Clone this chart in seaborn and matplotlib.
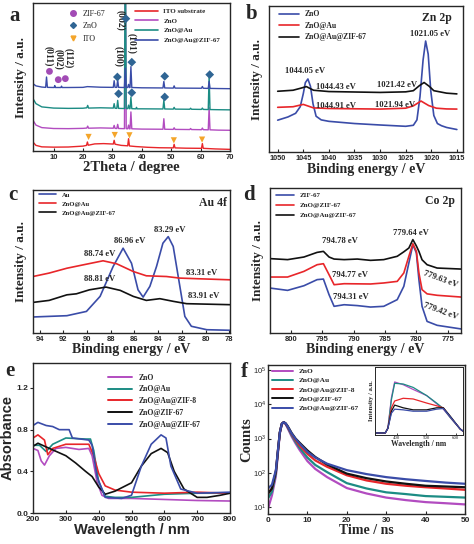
import numpy as np
import matplotlib
matplotlib.use("Agg")
import matplotlib.pyplot as plt
import seaborn as sns
from matplotlib.lines import Line2D

# ---------------- data ----------------
# (a) XRD, stacked curves (arbitrary units 0-100)
xrd_x_ito = [3, 4, 6, 10, 15, 20, 21.2, 21.5, 21.8, 24, 27, 30.3, 30.6, 30.9, 33, 35.2, 35.5, 35.8, 38, 42, 46,
             50.7, 51.0, 51.3, 55, 60.3, 60.6, 60.9, 65, 70]
xrd_y_ito = [6, 3.8, 2.8, 2.6, 2.7, 3.3, 3.8, 6.1, 3.9, 4.8, 5.0, 4.7, 7.2, 4.6, 3.8, 3.5, 8.3, 3.4, 3.0, 2.5, 2.2,
             2.1, 4.5, 2.1, 1.9, 1.8, 5.0, 1.8, 1.4, 1.1]
xrd_x_zno = [3, 4, 6, 10, 15, 20, 21.3, 21.6, 21.9, 26, 30.3, 30.6, 30.9, 31.5, 31.8, 32.1, 34.1, 34.4, 34.7,
             35.2, 35.5, 35.8, 36.0, 36.3, 36.6, 40, 47.2, 47.5, 47.8, 50.7, 51.0, 51.3, 56.3, 56.6, 56.9,
             60.3, 60.6, 60.9, 62.6, 62.9, 63.2, 66, 70]
xrd_y_zno = [20.7, 17.5, 15.8, 15.2, 15.1, 15.3, 15.5, 16.8, 15.4, 15.6, 15.4, 17.3, 15.3, 15.2, 18.0, 15.2, 15.1, 150, 15.1,
             15.0, 17.5, 15.0, 15.0, 26.4, 15.0, 14.8, 14.7, 21.8, 14.7, 14.6, 15.7, 14.6, 14.5, 15.2, 14.5,
             14.4, 15.5, 14.4, 14.3, 29.3, 14.3, 14.1, 14.0]
xrd_x_au = [3, 4, 6, 10, 15, 20, 21.3, 21.6, 21.9, 26, 30.3, 30.6, 30.9, 31.5, 31.8, 32.1, 34.1, 34.4, 34.7,
            35.2, 35.5, 35.8, 36.0, 36.3, 36.6, 38.0, 38.2, 38.4, 40, 47.2, 47.5, 47.8, 50.7, 51.0, 51.3,
            56.3, 56.6, 56.9, 60.3, 60.6, 60.9, 62.6, 62.9, 63.2, 66, 70]
xrd_y_au = [35.4, 32, 29.8, 29.0, 28.8, 28.9, 29.2, 30.8, 29.0, 29.2, 29.0, 32.0, 28.9, 28.8, 34.2, 28.8, 28.7, 150, 28.7,
            28.6, 31.0, 28.6, 28.6, 36.5, 28.6, 28.5, 29.5, 28.5, 28.5, 28.4, 34.2, 28.4, 28.3, 29.5, 28.3,
            28.2, 28.9, 28.2, 28.1, 29.0, 28.1, 28.0, 51.0, 28.0, 27.9, 27.8]
xrd_x_zif = [3, 4, 6, 7.3, 7.6, 7.9, 10.2, 10.4, 10.6, 12.5, 12.7, 12.9, 15, 20, 21.5, 26, 30.3, 30.6, 30.9,
             31.5, 31.8, 32.1, 34.1, 34.4, 34.7, 35.2, 35.5, 35.8, 36.0, 36.3, 36.6, 40, 47.2, 47.5, 47.8,
             50.7, 51.0, 51.3, 60.3, 60.6, 60.9, 62.6, 62.9, 63.2, 66, 70]
xrd_y_zif = [45.5, 44.0, 43.2, 43.0, 50.0, 43.0, 42.9, 44.2, 42.9, 42.9, 43.8, 42.9, 42.9, 43.0, 43.5, 43.1, 43.0, 47.5, 43.0,
             43.0, 48.2, 43.0, 42.9, 56.0, 42.9, 42.9, 45.0, 42.9, 42.9, 57.0, 42.9, 42.7, 42.6, 47.0, 42.6,
             42.5, 44.0, 42.5, 42.4, 43.6, 42.4, 42.3, 47.0, 42.3, 42.2, 42.1]
xrd_labels = ["ITO substrate", "ZnO", "ZnO@Au", "ZnO@Au@ZIF-67"]
zif_mark_x = [8.6, 11.6, 14.0]
zif_mark_y = [53.8, 48.2, 48.9]
zno_mark_x = [31.7, 34.6, 36.6, 47.8, 63.1, 32.1, 36.6, 47.8]
zno_mark_y = [50.0, 89.4, 60.0, 50.5, 51.6, 38.7, 39.4, 36.5]
ito_mark_x = [21.9, 30.8, 35.8, 50.9, 60.5]
ito_mark_y = [9.5, 10.8, 10.6, 7.2, 7.7]
hkl_text = ["(011)", "(002)", "(112)", "(100)", "(002)", "(101)"]
hkl_x = [8.3, 11.6, 14.9, 32.0, 32.6, 36.4]
hkl_y = [64.0, 62.0, 63.0, 64.0, 88.5, 73.0]

# (b) Zn 2p
zn_x_zno = [1050, 1048, 1046.5, 1045.6, 1045.0, 1044.6, 1044.1, 1043.6, 1043.1, 1042.5, 1041.5, 1040, 1035, 1030, 1025,
            1023.5, 1022.8, 1022.2, 1021.6, 1021.1, 1020.6, 1020.1, 1019.5, 1018.8, 1018, 1017, 1015]
zn_y_zno = [21.8, 24.0, 26.5, 31.0, 40.0, 47.5, 50.0, 45.0, 33.0, 24.5, 22.0, 21.0, 19.5, 18.5, 17.6,
            18.3, 22.0, 38.0, 63.0, 76.0, 67.0, 42.0, 25.0, 19.5, 18.0, 16.8, 15.4]
zn_x_au = [1050, 1047, 1045.0, 1043, 1040, 1030, 1025, 1023.5, 1022, 1020.5, 1019, 1017, 1015]
zn_y_au = [30.6, 31.0, 32.6, 30.2, 29.8, 29.4, 30.0, 31.6, 34.9, 31.8, 30.0, 29.5, 29.4]
zn_x_zif = [1050, 1047, 1045.5, 1044.4, 1043, 1040, 1030, 1025, 1023.5, 1022.3, 1021.4, 1020.4, 1019.5, 1017, 1015]
zn_y_zif = [41.6, 42.3, 43.7, 44.8, 42.3, 41.4, 40.8, 41.2, 42.0, 45.5, 47.6, 45.0, 42.0, 40.3, 39.8]
zn_labels = ["ZnO", "ZnO@Au", "ZnO@Au@ZIF-67"]
zn_ann = ["1021.05 eV", "1044.05 eV", "1044.43 eV", "1021.42 eV", "1044.91 eV", "1021.94 eV"]
zn_ann_x = [1020.3, 1044.6, 1038.7, 1026.7, 1038.6, 1027.1]
zn_ann_y = [80.5, 55.2, 44.4, 46.0, 31.5, 32.2]

# (c) Au 4f
au_x_au = [94.56, 91.7, 90.05, 88.9, 87.8, 86.96, 86.25, 85.7, 85.27, 84.7, 84.14, 83.6, 83.15, 82.73, 82.17,
           81.75, 81.2, 79.9, 77.94]
au_y_au = [11.2, 12.1, 15.1, 25.6, 46.5, 59.3, 48.8, 30.2, 25.1, 32.6, 46.5, 62.8, 67.4, 60.5, 32.6,
           11.6, 4.7, 2.3, 1.9]
au_x_znau = [94.56, 93.2, 91.7, 90.3, 88.65, 87.5, 86.1, 85.0, 83.3, 82.2, 80.5, 77.94]
au_y_znau = [39.5, 41.9, 45.3, 47.7, 50.5, 48.4, 43.0, 40.0, 39.5, 38.4, 37.9, 37.2]
au_x_zif = [94.56, 93.2, 91.7, 90.9, 89.8, 88.4, 87.2, 86.1, 85.0, 83.86, 82.7, 81.6, 77.94]
au_y_zif = [21.4, 22.8, 26.7, 27.4, 30.2, 32.1, 29.8, 25.6, 22.8, 24.0, 22.1, 20.5, 19.8]
au_labels = ["Au", "ZnO@Au", "ZnO@Au@ZIF-67"]
au_ann = ["83.29 eV", "86.96 eV", "88.74 eV", "83.31 eV", "88.81 eV", "83.91 eV"]
au_ann_x = [83.0, 86.4, 88.9, 80.3, 88.9, 80.2]
au_ann_y = [72.1, 64.0, 55.3, 42.3, 37.9, 25.6]

# (d) Co 2p
co_x = [803.3, 800.5, 797.9, 795.8, 794.8, 793.9, 793.1, 791.5, 789.4, 787.3, 785.2, 783.05, 782.0, 781.2,
        780.56, 780.0, 779.6, 779.1, 778.3, 776.7, 772.9]
co_y_zif = [31.0, 29.4, 32.6, 36.8, 37.2, 26.4, 18.4, 19.5, 18.9, 17.9, 18.4, 23.0, 32.2, 48.3,
            60.9, 55.2, 36.8, 18.4, 8.0, 5.3, 2.8]
co_y_znzif = [38.6, 38.6, 42.5, 47.1, 47.8, 40.2, 33.3, 34.0, 33.9, 33.8, 34.5, 35.6, 41.4, 52.9,
              61.6, 56.3, 41.4, 29.9, 27.0, 26.0, 24.8]
co_y_auzif = [51.3, 50.6, 52.4, 55.6, 56.3, 52.4, 51.0, 50.6, 51.0, 50.1, 50.6, 52.9, 56.0, 58.6,
              64.4, 60.0, 56.3, 50.5, 47.1, 44.8, 44.1]
co_labels = ["ZIF-67", "ZnO@ZIF-67", "ZnO@Au@ZIF-67"]
co_ann = ["779.64 eV", "794.78 eV", "794.77 eV", "794.31 eV", "779.63 eV", "779.42 eV"]
co_ann_x = [780.9, 792.1, 790.5, 790.5, 776.2, 776.2]
co_ann_y = [69.0, 63.2, 40.2, 24.8, 36.8, 14.9]
co_ann_rot = [0, 0, 0, 0, -20, -20]

# (e) UV-vis absorbance
uv_x_zno = [200, 215, 225, 235, 250, 270, 300, 340, 370, 380, 395, 410, 430, 500, 600, 700, 800]
uv_y_zno = [0.62, 0.60, 0.50, 0.46, 0.55, 0.62, 0.63, 0.61, 0.62, 0.55, 0.30, 0.17, 0.14, 0.14, 0.13, 0.12, 0.115]
uv_x_au = [200, 220, 240, 260, 300, 360, 375, 385, 400, 420, 450, 500, 600, 700, 800]
uv_y_au = [0.65, 0.65, 0.59, 0.66, 0.72, 0.71, 0.71, 0.60, 0.30, 0.16, 0.15, 0.15, 0.18, 0.19, 0.19]
uv_x_zif8 = [200, 215, 235, 245, 260, 300, 370, 385, 400, 420, 450, 500, 600, 700, 800]
uv_y_zif8 = [0.72, 0.75, 0.70, 0.56, 0.62, 0.66, 0.66, 0.55, 0.38, 0.26, 0.22, 0.20, 0.19, 0.20, 0.19]
uv_x_zif67 = [200, 215, 250, 300, 330, 360, 380, 400, 420, 450, 500, 530, 560, 590, 610, 630, 660, 700, 730, 770, 800]
uv_y_zif67 = [0.64, 0.67, 0.62, 0.55, 0.48, 0.40, 0.35, 0.25, 0.18, 0.21, 0.29, 0.45, 0.57, 0.62, 0.58, 0.40, 0.23,
              0.15, 0.15, 0.17, 0.19]
uv_x_auzif = [200, 215, 240, 260, 280, 310, 320, 370, 380, 395, 420, 470, 500, 530, 560, 590, 605, 620, 650, 700, 800]
uv_y_auzif = [0.84, 0.87, 0.84, 0.83, 0.80, 0.80, 0.72, 0.70, 0.65, 0.35, 0.15, 0.14, 0.17, 0.45, 0.66, 0.75, 0.72,
              0.45, 0.23, 0.19, 0.20]
uv_labels = ["ZnO", "ZnO@Au", "ZnO@Au@ZIF-8", "ZnO@ZIF-67", "ZnO@Au@ZIF-67"]

# (f) TRPL decay
t_ns = [0, 1, 2, 2.5, 3, 3.5, 4, 4.5, 5, 6, 7, 8, 10, 12, 15, 20, 25, 30, 35, 40, 45, 50]
pl_zno = [9, 22, 80, 350, 1400, 2600, 3000, 2600, 2000, 1150, 720, 470, 220, 130, 75, 36, 25, 19, 16, 14, 13, 12]
pl_au = [18, 28, 95, 400, 1500, 2700, 3000, 2700, 2100, 1250, 800, 540, 280, 170, 105, 50, 35, 27, 24, 21, 20, 19]
pl_zif8 = [25, 35, 110, 420, 1500, 2700, 3000, 2700, 2200, 1350, 900, 630, 360, 230, 150, 85, 60, 48, 42, 38, 35, 32]
pl_zif67 = [25, 35, 110, 420, 1500, 2700, 3000, 2750, 2300, 1450, 1000, 760, 450, 290, 175, 95, 70, 56, 48, 42, 40, 38]
pl_auzif = [35, 45, 120, 430, 1500, 2700, 3000, 2750, 2250, 1400, 980, 720, 410, 280, 185, 120, 92, 75, 65, 58, 52, 48]
# inset PL spectra
ins_x = [325, 360, 369, 381, 392, 421, 455, 501, 535, 558, 581, 615, 624]
ins_zno = [3, 3, 10, 55, 78, 74, 67, 58, 46, 38, 26, 9, 6]
ins_au = [3, 3, 10, 52, 76, 75, 70, 58, 47, 39, 26, 9, 6]
ins_zif8 = [3, 3, 10, 40, 50, 54, 53, 47, 43, 40, 27, 9, 6]
ins_zif67 = [3, 3, 10, 35, 44, 40, 37, 37, 40, 40, 28, 9, 6]
ins_auzif = [3, 3, 10, 32, 38, 37, 35, 35, 38, 39, 27, 9, 6]

# ---------------- style ----------------
RED, PURPLE, TEAL, BLUE, BLACK = "#e8262a", "#b24cc0", "#1c8c84", "#3a4ca8", "#111111"
SERIF = "Liberation Serif"
SANS = "Liberation Sans"

sns.set_style("ticks")
plt.rcParams["font.family"] = [SERIF, "DejaVu Serif"]
plt.rcParams["axes.linewidth"] = 1.0

W, H = 474, 544
fig = plt.figure(figsize=(W / 100, H / 100), dpi=100)


def px_axes(l, t, r, b):
    return fig.add_axes([l / W, 1 - b / H, (r - l) / W, (b - t) / H])


def line(ax, x, y, c, lw=1.1, label=None):
    sns.lineplot(x=x, y=y, ax=ax, color=c, lw=lw, label=label, legend=False, sort=False)


def style_ax(ax, tick_fs=6):
    ax.tick_params(axis="x", direction="in", length=2.5, width=0.8, pad=2, labelsize=tick_fs)
    for lab in ax.get_xticklabels():
        lab.set_fontfamily(SANS)
        lab.set_fontweight("bold")


def legend_lines(ax, colors, labels, anchor, fs=5.3, spacing=0.45, hl=2.6, lw=1.2):
    handles = [Line2D([0], [0], color=c, lw=lw) for c in colors]
    leg = ax.legend(handles, labels, loc="upper left", bbox_to_anchor=anchor, frameon=False,
                    prop={"family": SERIF, "weight": "bold", "size": fs}, labelspacing=spacing,
                    handlelength=hl, handletextpad=0.8, borderaxespad=0, borderpad=0)
    return leg


# ---------------- (a) ----------------
ax = px_axes(33, 3, 230, 151)
line(ax, xrd_x_ito, xrd_y_ito, RED, 1.0)
line(ax, xrd_x_zno, xrd_y_zno, PURPLE, 1.0)
line(ax, xrd_x_au, xrd_y_au, TEAL, 1.0)
line(ax, xrd_x_zif, xrd_y_zif, BLUE, 1.0)
sns.scatterplot(x=zif_mark_x, y=zif_mark_y, ax=ax, color="#a24bb5", s=24, marker="o", edgecolor="none", zorder=5)
sns.scatterplot(x=zno_mark_x, y=zno_mark_y, ax=ax, color="#2f6594", s=20, marker="D", edgecolor="none", zorder=5)
sns.scatterplot(x=ito_mark_x, y=ito_mark_y, ax=ax, color="#f4a52a", s=20, marker="v", edgecolor="none", zorder=5)
for txt, x, y in zip(hkl_text, hkl_x, hkl_y):
    ax.text(x, y, txt, rotation=-90, ha="center", va="center", fontsize=7, fontweight="bold")
ax.set_xlim(3, 70)
ax.set_ylim(0, 100)
ax.set_yticks([])
ax.set_xticks([10, 20, 30, 40, 50, 60, 70])
style_ax(ax, 5.5)
ax.set_xlabel("2Theta / degree", fontsize=10.5, fontweight="bold", labelpad=0)
ax.set_ylabel("Intensity / a.u.", fontsize=9.5, fontweight="bold", labelpad=4)
mk = [Line2D([0], [0], marker="o", color="#a24bb5", lw=0, ms=4),
      Line2D([0], [0], marker="D", color="#2f6594", lw=0, ms=3),
      Line2D([0], [0], marker="v", color="#f4a52a", lw=0, ms=3.5)]
leg1 = ax.legend(mk, ["ZIF-67", "ZnO", "ITO"], loc="upper left", bbox_to_anchor=(0.16, 0.955), frameon=False,
                 prop={"family": SERIF, "size": 5.8}, labelspacing=0.55, handletextpad=0.3, borderaxespad=0,
                 borderpad=0)
ax.add_artist(leg1)
legend_lines(ax, [RED, PURPLE, TEAL, BLUE], xrd_labels, (0.52, 0.965), fs=5.0, spacing=0.55, hl=3.2)
fig.text(15 / W, 1 - 16 / H, "a", fontsize=15, fontweight="bold", ha="center", va="center")

# ---------------- (b) ----------------
ax = px_axes(269, 6, 463, 152)
line(ax, zn_x_zno, zn_y_zno, BLUE, 1.2)
line(ax, zn_x_au, zn_y_au, RED, 1.2)
line(ax, zn_x_zif, zn_y_zif, BLACK, 1.2)
for txt, x, y in zip(zn_ann, zn_ann_x, zn_ann_y):
    ax.text(x, y, txt, ha="center", va="center", fontsize=6.2, fontweight="bold")
ax.text(1019, 92, "Zn 2p", ha="center", va="center", fontsize=8.5, fontweight="bold")
ax.set_xlim(1051.7, 1013.8)
ax.set_ylim(0, 100)
ax.set_yticks([])
ax.set_xticks(list(range(1050, 1014, -5)))
style_ax(ax, 5.3)
ax.set_xlabel("Binding energy / eV", fontsize=10, fontweight="bold", labelpad=1)
ax.set_ylabel("Intensity / a.u.", fontsize=9.5, fontweight="bold", labelpad=4)
legend_lines(ax, [BLUE, RED, BLACK], zn_labels, (0.05, 0.97), fs=5.5, spacing=0.45)
fig.text(252 / W, 1 - 14 / H, "b", fontsize=15, fontweight="bold", ha="center", va="center")

# ---------------- (c) ----------------
ax = px_axes(33, 190, 230, 333)
line(ax, au_x_au, au_y_au, BLUE, 1.2)
line(ax, au_x_znau, au_y_znau, RED, 1.2)
line(ax, au_x_zif, au_y_zif, BLACK, 1.2)
for txt, x, y in zip(au_ann, au_ann_x, au_ann_y):
    ax.text(x, y, txt, ha="center", va="center", fontsize=6.2, fontweight="bold")
ax.text(79.4, 90.7, "Au 4f", ha="center", va="center", fontsize=8.5, fontweight="bold")
ax.set_xlim(94.56, 77.94)
ax.set_ylim(0, 100)
ax.set_yticks([])
ax.set_xticks(list(range(94, 77, -2)))
style_ax(ax, 5.5)
ax.set_xlabel("Binding energy / eV", fontsize=10, fontweight="bold", labelpad=0)
ax.set_ylabel("Intensity / a.u.", fontsize=9.5, fontweight="bold", labelpad=4)
legend_lines(ax, [BLUE, RED, BLACK], au_labels, (0.03, 0.985), fs=4.8, spacing=0.5)
fig.text(13 / W, 1 - 195 / H, "c", fontsize=15, fontweight="bold", ha="center", va="center")

# ---------------- (d) ----------------
ax = px_axes(270, 188, 461, 333)
line(ax, co_x, co_y_zif, BLUE, 1.2)
line(ax, co_x, co_y_znzif, RED, 1.2)
line(ax, co_x, co_y_auzif, BLACK, 1.2)
for txt, x, y, r in zip(co_ann, co_ann_x, co_ann_y, co_ann_rot):
    ax.text(x, y, txt, ha="center", va="center", fontsize=6.2, fontweight="bold", rotation=r)
ax.text(776.2, 90.8, "Co 2p", ha="center", va="center", fontsize=8.5, fontweight="bold")
ax.set_xlim(803.3, 772.9)
ax.set_ylim(0, 100)
ax.set_yticks([])
ax.set_xticks([800, 795, 790, 785, 780, 775])
style_ax(ax, 5.5)
ax.set_xlabel("Binding energy / eV", fontsize=10, fontweight="bold", labelpad=0)
ax.set_ylabel("Intensity / a.u.", fontsize=9.5, fontweight="bold", labelpad=4)
legend_lines(ax, [BLUE, RED, BLACK], co_labels, (0.03, 0.97), fs=5.0, spacing=0.6)
fig.text(249 / W, 1 - 195 / H, "d", fontsize=15, fontweight="bold", ha="center", va="center")

# ---------------- (e) ----------------
ax = px_axes(33, 363, 230, 513)
uv_cols = [PURPLE, TEAL, RED, BLACK, BLUE]
line(ax, uv_x_zno, uv_y_zno, PURPLE, 1.2)
line(ax, uv_x_au, uv_y_au, TEAL, 1.2)
line(ax, uv_x_zif8, uv_y_zif8, RED, 1.2)
line(ax, uv_x_zif67, uv_y_zif67, BLACK, 1.2)
line(ax, uv_x_auzif, uv_y_auzif, BLUE, 1.2)
ax.set_xlim(200, 800)
ax.set_ylim(0, 1.44)
ax.set_xticks([200, 300, 400, 500, 600, 700, 800])
ax.set_yticks([0.0, 0.4, 0.8, 1.2])
ax.set_yticklabels(["0.0", "0.4", "0.8", "1.2"])
style_ax(ax, 6)
ax.tick_params(axis="y", direction="out", length=2.5, width=0.8, pad=1, labelsize=6)
for lab in ax.get_yticklabels():
    lab.set_fontfamily(SANS)
    lab.set_fontweight("bold")
ax.set_xlabel("Wavelength / nm", fontsize=10.5, fontweight="bold", family=SANS, labelpad=0)
ax.set_ylabel("Absorbance", fontsize=10.5, fontweight="bold", family=SANS, labelpad=1)
legend_lines(ax, uv_cols, uv_labels, (0.38, 0.93), fs=5.5, spacing=0.5, hl=3.2, lw=1.4)
fig.text(10 / W, 1 - 371 / H, "e", fontsize=15, fontweight="bold", ha="center", va="center")

# ---------------- (f) ----------------
ax = px_axes(268, 365, 465, 514)
line(ax, t_ns, pl_zno, PURPLE, 1.6)
line(ax, t_ns, pl_au, TEAL, 1.6)
line(ax, t_ns, pl_zif8, RED, 1.6)
line(ax, t_ns, pl_zif67, BLACK, 1.6)
line(ax, t_ns, pl_auzif, BLUE, 1.6)
ax.set_yscale("log")
ax.set_xlim(0, 50)
ax.set_ylim(6.3, 1.4e5)
ax.set_xticks([0, 10, 20, 30, 40, 50])
style_ax(ax, 6)
ax.tick_params(axis="y", which="major", direction="in", length=2.5, width=0.8, pad=1, labelsize=5.5)
ax.tick_params(axis="y", which="minor", length=0)
for lab in ax.get_yticklabels():
    lab.set_fontfamily(SANS)
ax.set_xlabel("Time / ns", fontsize=10, fontweight="bold", labelpad=0)
ax.set_ylabel("Counts", fontsize=10.5, fontweight="bold", labelpad=0)
legend_lines(ax, uv_cols, uv_labels, (0.02, 0.98), fs=5.3, spacing=0.42, hl=2.8, lw=1.4)
fig.text(244 / W, 1 - 372 / H, "f", fontsize=15, fontweight="bold", ha="center", va="center")

ins = px_axes(375, 367, 463, 435)
line(ins, ins_x, ins_zno, PURPLE, 0.9)
line(ins, ins_x, ins_au, TEAL, 0.9)
line(ins, ins_x, ins_zif8, RED, 0.9)
line(ins, ins_x, ins_zif67, BLACK, 0.9)
line(ins, ins_x, ins_auzif, BLUE, 0.9)
ins.set_xlim(325, 625)
ins.set_ylim(0, 100)
ins.set_yticks([])
ins.set_xticks([400, 500, 600])
ins.tick_params(axis="x", direction="in", length=1.5, width=0.6, pad=1, labelsize=3.5)
for sp in ins.spines.values():
    sp.set_linewidth(0.7)
ins.set_xlabel("Wavelength / nm", fontsize=5.5, fontweight="bold", labelpad=0)
ins.set_ylabel("Intensity / a.u.", fontsize=4.8, fontweight="bold", labelpad=1)

fig.savefig("out.png", dpi=100)
